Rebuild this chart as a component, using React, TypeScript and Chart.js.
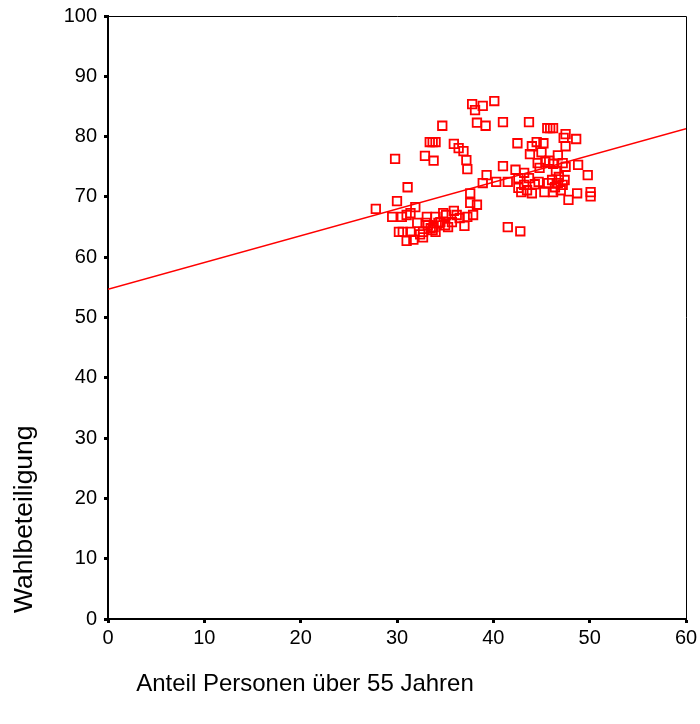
import React, { useEffect, useRef } from "react";
import { Chart, registerables } from "chart.js";

Chart.register(...registerables);

const xAxisTitle = "Anteil Personen über 55 Jahren";
const yAxisTitle = "Wahlbeteiligung";

const anteilUeber55: number[] = [
  40.1, 37.8, 38.1, 38.9, 43.7, 41.0, 34.7, 38.3, 39.2, 45.6, 45.9, 46.2, 47.5, 47.3, 48.6,
  33.4, 33.7, 34.0, 35.9, 36.4, 36.9, 32.9, 33.8, 29.8, 37.2, 37.3, 42.5, 44.0, 44.5, 45.2,
  43.8, 45.0, 46.7, 47.5, 48.8, 49.8, 41.0, 42.3, 43.2, 45.8, 46.2, 44.6, 45.4, 47.5, 46.5,
  44.8, 39.3, 38.9, 40.3, 41.5, 42.6, 42.6, 42.9, 43.7, 44.7, 44.0, 45.3, 46.2, 46.7, 46.8,
  47.8, 48.7, 50.1, 50.1, 43.2, 43.5, 44.3, 45.7, 46.1, 46.4, 47.0, 47.2, 47.4, 47.2, 41.5,
  42.8, 27.8, 30.0, 31.1, 31.9, 29.5, 30.5, 31.0, 31.4, 30.2, 30.6, 31.0, 31.7, 32.7, 31.4,
  32.1, 33.1, 34.0, 35.1, 35.9, 35.0, 33.8, 33.2, 35.3, 37.0, 37.3, 37.6, 38.3, 37.6, 37.9,
  36.5, 36.2, 35.7, 34.5, 33.7, 32.7, 32.4, 34.3, 34.8, 33.0, 33.5, 34.0,
];

const wahlbeteiligung: number[] = [
  85.9, 85.4, 84.4, 85.1, 82.4, 82.4, 81.8, 82.3, 81.8, 81.4, 81.4, 81.4, 80.4, 79.8, 79.6,
  79.1, 79.1, 79.1, 78.8, 78.1, 77.6, 76.8, 76.0, 76.3, 76.1, 74.6, 78.9, 78.4, 79.1, 78.9,
  77.1, 77.4, 76.9, 78.4, 75.3, 73.6, 75.1, 74.5, 74.0, 76.0, 75.5, 75.6, 75.8, 75.0, 74.3,
  74.8, 73.6, 72.3, 72.5, 72.5, 73.1, 71.5, 70.8, 73.1, 72.5, 70.6, 70.8, 70.8, 72.3, 73.3,
  69.5, 70.6, 70.8, 70.1, 72.0, 71.1, 72.1, 72.3, 72.8, 71.6, 71.1, 72.0, 72.8, 75.6, 65.0,
  64.3, 68.0, 69.3, 71.6, 68.3, 66.7, 66.7, 67.0, 67.3, 64.2, 64.2, 62.7, 62.9, 63.3, 64.2,
  65.7, 66.7, 66.7, 67.0, 67.7, 65.3, 65.0, 65.3, 65.0, 65.2, 66.7, 69.0, 68.7, 70.6, 67.0,
  66.5, 67.0, 65.8, 65.8, 64.5, 64.2, 63.8, 65.7, 67.3, 65.7, 64.8, 64.2,
];

const fitLineX: number[] = [0, 60];
const fitLineY: number[] = [54.7, 81.3];

const FONT = "'Liberation Sans', Arial, Helvetica, sans-serif";

export default function App() {
  const canvasRef = useRef<HTMLCanvasElement | null>(null);

  useEffect(() => {
    document.body.style.margin = "0";
    const canvas = canvasRef.current;
    if (!canvas) return;

    const points = anteilUeber55.map((x, i) => ({ x, y: wahlbeteiligung[i] }));
    const fit = fitLineX.map((x, i) => ({ x, y: fitLineY[i] }));

    const framePlugin = {
      id: "frameAndTitle",
      afterDraw(chart: any) {
        const { ctx, chartArea } = chart;
        ctx.save();
        ctx.strokeStyle = "#000";
        ctx.lineWidth = 1;
        ctx.beginPath();
        ctx.moveTo(chartArea.left, chartArea.top + 0.5);
        ctx.lineTo(chartArea.right + 0.5, chartArea.top + 0.5);
        ctx.lineTo(chartArea.right + 0.5, chartArea.bottom);
        ctx.stroke();
        ctx.fillStyle = "#000";
        ctx.font = `24px ${FONT}`;
        ctx.textAlign = "center";
        ctx.textBaseline = "middle";
        ctx.fillText(xAxisTitle, 305, 684);
        ctx.save();
        ctx.translate(25, 613);
        ctx.rotate(-Math.PI / 2);
        ctx.font = `26.5px ${FONT}`;
        ctx.textAlign = "left";
        ctx.textBaseline = "middle";
        ctx.fillText(yAxisTitle, 0, 0);
        ctx.restore();
        ctx.restore();
      },
    };

    const tickFont = { family: FONT, size: 20 };

    const chart = new Chart(canvas, {
      type: "scatter",
      data: {
        datasets: [
          {
            type: "scatter",
            data: points,
            pointStyle: "rect",
            pointRadius: 6,
            pointHoverRadius: 6,
            borderColor: "#ff0000",
            backgroundColor: "rgba(0,0,0,0)",
            borderWidth: 1.8,
          },
          {
            type: "line",
            data: fit,
            borderColor: "#ff0000",
            borderWidth: 1.5,
            pointRadius: 0,
            fill: false,
          } as any,
        ],
      },
      options: {
        responsive: false,
        animation: false,
        layout: { padding: { left: 0, right: 14, top: 16, bottom: 0 } },
        plugins: { legend: { display: false }, tooltip: { enabled: false } },
        scales: {
          x: {
            type: "linear",
            min: 0,
            max: 60,
            ticks: { stepSize: 10, color: "#000", font: tickFont, padding: 3 },
            grid: {
              drawOnChartArea: false,
              drawTicks: true,
              tickLength: 4,
              tickWidth: 3,
              tickColor: "#000",
              color: "#000",
            },
            border: { display: true, color: "#000", width: 2 },
            afterFit: (s: any) => {
              s.height = 105;
              s.paddingLeft = 0;
              s.paddingRight = 0;
            },
          },
          y: {
            type: "linear",
            min: 0,
            max: 100,
            ticks: { stepSize: 10, color: "#000", font: tickFont, padding: 7 },
            grid: {
              drawOnChartArea: false,
              drawTicks: true,
              tickLength: 4,
              tickWidth: 3,
              tickColor: "#000",
              color: "#000",
            },
            border: { display: true, color: "#000", width: 2 },
            afterFit: (s: any) => {
              s.width = 108;
              s.paddingTop = 0;
              s.paddingBottom = 0;
            },
          },
        },
      },
      plugins: [framePlugin],
    });

    return () => chart.destroy();
  }, []);

  return (
    <div style={{ width: 700, height: 724 }}>
      <canvas ref={canvasRef} width={700} height={724} style={{ width: 700, height: 724, display: "block" }} />
    </div>
  );
}
